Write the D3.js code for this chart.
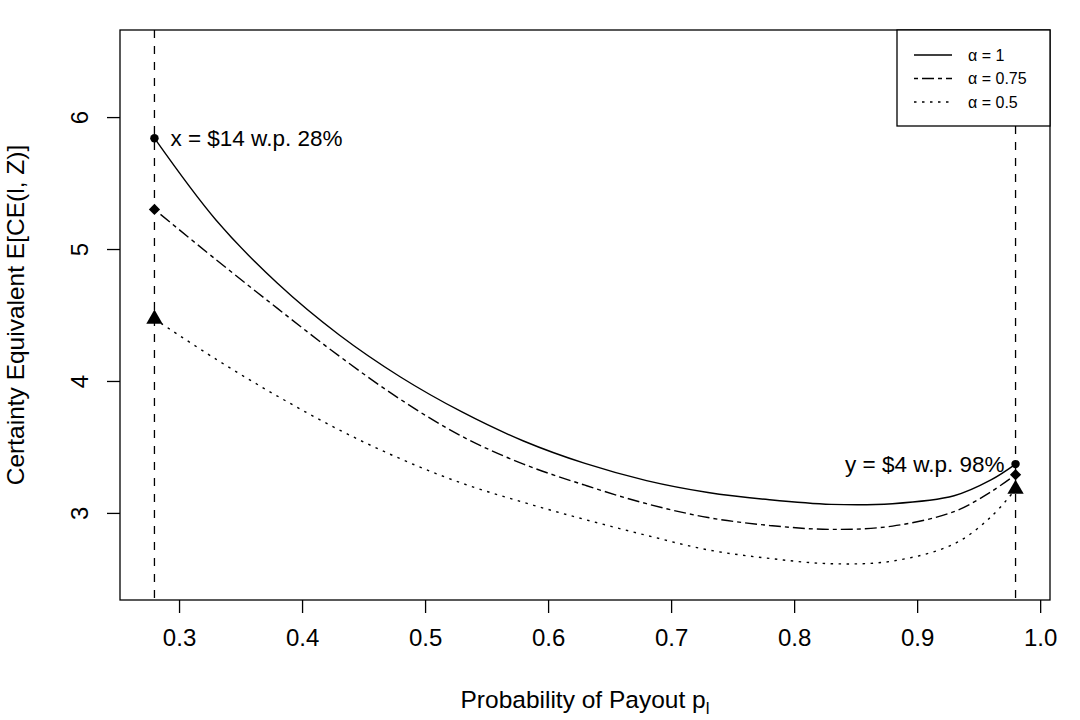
<!DOCTYPE html>
<html>
<head>
<meta charset="utf-8">
<script src="https://cdn.jsdelivr.net/npm/d3@7"></script>
<style>
  body { margin: 0; background: #fff; }
  text { font-family: "Liberation Sans", Arial, sans-serif; fill: #000; }
</style>
</head>
<body>
<svg width="1080" height="720"></svg>
<script>
const svg = d3.select("svg");

// probability of payout grid
const probs = [0.28, 0.33, 0.38, 0.43, 0.48, 0.53, 0.58, 0.63, 0.68, 0.73, 0.78, 0.83, 0.88, 0.93, 0.96, 0.98];
// certainty equivalents per alpha
const ceAlpha1   = [5.84, 5.22, 4.74, 4.35, 4.03, 3.765, 3.545, 3.375, 3.245, 3.155, 3.10, 3.065, 3.07, 3.13, 3.25, 3.37];
const ceAlpha075 = [5.30, 4.92, 4.55, 4.19, 3.86, 3.58, 3.37, 3.21, 3.07, 2.965, 2.905, 2.875, 2.90, 3.01, 3.16, 3.29];
const ceAlpha05  = [4.47, 4.165, 3.885, 3.63, 3.41, 3.225, 3.08, 2.95, 2.83, 2.72, 2.655, 2.615, 2.635, 2.765, 2.97, 3.18];

const seriesNames = ["α = 1", "α = 0.75", "α = 0.5"];
const xTicks = [0.3, 0.4, 0.5, 0.6, 0.7, 0.8, 0.9, 1.0];
const yTicks = [3, 4, 5, 6];
const vLines = [0.28, 0.98];

const mLeft = 120, mRight = 1050, mTop = 30, mBottom = 600;

const x = d3.scaleLinear().domain([0.252, 1.008]).range([mLeft, mRight]);
const y = d3.scaleLinear().domain([2.34, 6.66]).range([mBottom, mTop]);

const dashes = [null, "4,4,12,4", "2.5,5.5"];
const series = [ceAlpha1, ceAlpha075, ceAlpha05];
const markers = [d3.symbolCircle, d3.symbolDiamond2, d3.symbolTriangle];
const markerSize = [56, 80, 115];

// vertical reference lines
svg.selectAll(".vline")
    .data(vLines)
    .enter().append("line")
    .attr("x1", d => x(d)).attr("x2", d => x(d))
    .attr("y1", mTop).attr("y2", mBottom)
    .attr("stroke", "#000")
    .attr("stroke-width", 1.3)
    .attr("stroke-dasharray", "8,8");

const line = d3.line()
    .x((d, i) => x(probs[i]))
    .y(d => y(d))
    .curve(d3.curveCatmullRom.alpha(0.5));

series.forEach((s, k) => {
    svg.append("path")
        .datum(s)
        .attr("d", line)
        .attr("fill", "none")
        .attr("stroke", "#000")
        .attr("stroke-width", 1.4)
        .attr("stroke-dasharray", dashes[k]);

    [0, s.length - 1].forEach(i => {
        svg.append("path")
            .attr("d", d3.symbol().type(markers[k]).size(markerSize[k])())
            .attr("transform", `translate(${x(probs[i])},${y(s[i])})`)
            .attr("fill", "#000");
    });
});

// box
svg.append("rect")
    .attr("x", mLeft).attr("y", mTop)
    .attr("width", mRight - mLeft).attr("height", mBottom - mTop)
    .attr("fill", "none").attr("stroke", "#000").attr("stroke-width", 1.3);

// axes
const xAxis = svg.append("g")
    .attr("transform", `translate(0,${mBottom})`)
    .call(d3.axisBottom(x).tickValues(xTicks).tickFormat(d3.format(".1f")).tickSize(13).tickPadding(16).tickSizeOuter(0));
xAxis.select(".domain").remove();
xAxis.selectAll("line").attr("stroke-width", 1.3);
xAxis.selectAll("text").attr("font-size", 24).style("font-family", "Liberation Sans, Arial, sans-serif");

const yAxis = svg.append("g")
    .attr("transform", `translate(${mLeft},0)`)
    .call(d3.axisLeft(y).tickValues(yTicks).tickFormat(d3.format("d")).tickSize(13).tickSizeOuter(0));
yAxis.select(".domain").remove();
yAxis.selectAll("line").attr("stroke-width", 1.3);
yAxis.selectAll("text")
    .attr("font-size", 24)
    .style("font-family", "Liberation Sans, Arial, sans-serif")
    .attr("x", null).attr("dy", null)
    .attr("text-anchor", "middle")
    .attr("transform", "translate(-41,0) rotate(-90)")
    .attr("y", 0)
    .attr("dominant-baseline", "central");

// axis titles
const xt = svg.append("text")
    .attr("x", (mLeft + mRight) / 2).attr("y", 708)
    .attr("text-anchor", "middle").attr("font-size", 24.5)
    .text("Probability of Payout p");
xt.append("tspan").attr("font-size", 17).attr("dy", 6).text("l");

svg.append("text")
    .attr("transform", `translate(24,${(mTop + mBottom) / 2}) rotate(-90)`)
    .attr("text-anchor", "middle").attr("font-size", 24.5)
    .text("Certainty Equivalent E[CE(l, Z)]");

// annotations
svg.append("text")
    .attr("x", x(0.28) + 16).attr("y", y(ceAlpha1[0]))
    .attr("dominant-baseline", "central").attr("font-size", 22.5)
    .text("x = $14 w.p. 28%");
svg.append("text")
    .attr("x", x(0.98) - 11).attr("y", y(ceAlpha1[ceAlpha1.length - 1]))
    .attr("dominant-baseline", "central").attr("text-anchor", "end").attr("font-size", 22.5)
    .text("y = $4 w.p. 98%");

// legend
const lg = svg.append("g");
lg.append("rect")
    .attr("x", 897).attr("y", mTop).attr("width", mRight - 897).attr("height", 96)
    .attr("fill", "#fff").attr("stroke", "#000").attr("stroke-width", 1.3);
seriesNames.forEach((name, k) => {
    const yy = 55 + k * 23.5;
    lg.append("line")
        .attr("x1", 914).attr("x2", 952).attr("y1", yy).attr("y2", yy)
        .attr("stroke", "#000").attr("stroke-width", 1.4)
        .attr("stroke-dasharray", dashes[k]);
    lg.append("text")
        .attr("x", 968).attr("y", yy)
        .attr("dominant-baseline", "central").attr("font-size", 16)
        .text(name);
});
</script>
</body>
</html>
